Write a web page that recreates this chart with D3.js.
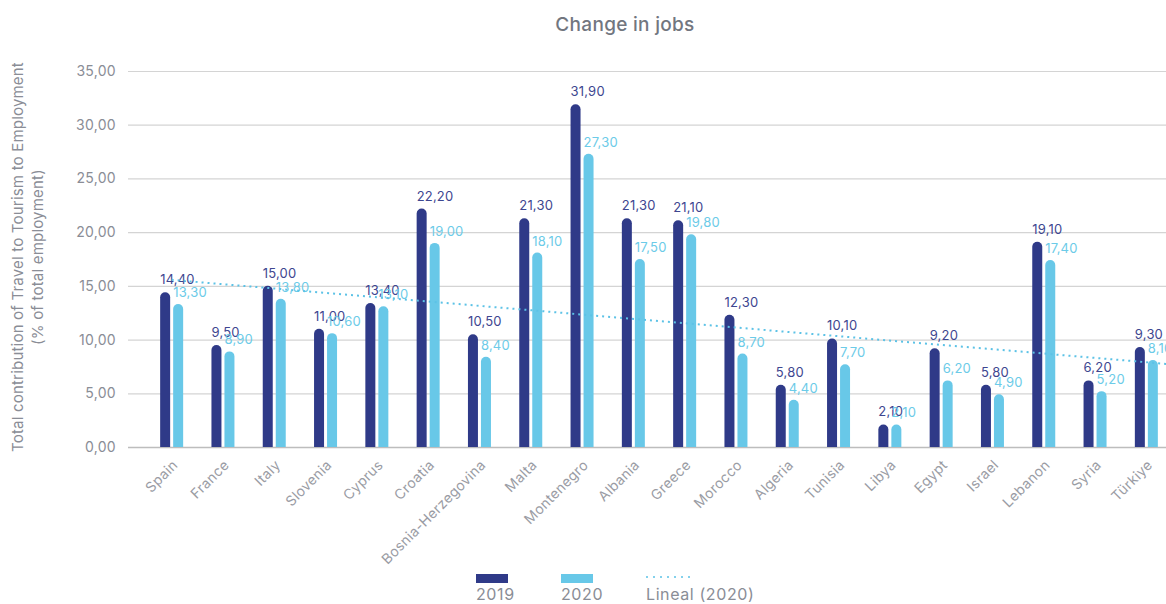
<!DOCTYPE html>
<html>
<head>
<meta charset="utf-8">
<script src="https://cdn.jsdelivr.net/npm/d3@7"></script>
<style>
  body { margin: 0; background: #fff; }
  svg { display: block; font-family: Inter, "Open Sans", sans-serif; }
</style>
</head>
<body>
<svg id="chart" width="1166" height="604"></svg>
<script>
// Travel & tourism share of total employment, by country
const countries = ["Spain", "France", "Italy", "Slovenia", "Cyprus", "Croatia", "Bosnia-Herzegovina", "Malta",
  "Montenegro", "Albania", "Greece", "Morocco", "Algeria", "Tunisia", "Libya", "Egypt", "Israel",
  "Lebanon", "Syria", "Türkiye"];
const values2019 = [14.4, 9.5, 15.0, 11.0, 13.4, 22.2, 10.5, 21.3, 31.9, 21.3, 21.1, 12.3, 5.8, 10.1, 2.1, 9.2, 5.8, 19.1, 6.2, 9.3];
const values2020 = [13.3, 8.9, 13.8, 10.6, 13.1, 19.0, 8.4, 18.1, 27.3, 17.5, 19.8, 8.7, 4.4, 7.7, 2.1, 6.2, 4.9, 17.4, 5.2, 8.1];
const yTicks = [0, 5, 10, 15, 20, 25, 30, 35];
const seriesNames = ["2019", "2020", "Lineal (2020)"];

const dark = "#2f3a88";
const light = "#68c8e8";
const grey = "#8a8d96";
const fmt = v => d3.format(".2f")(v).replace(".", ",");

const svg = d3.select("#chart");

const x = d3.scaleBand().domain(countries).range([146, 1172]);
const y = d3.scaleLinear().domain([0, 35]).range([447, 71]);

// Title
svg.append("text")
  .attr("x", 625).attr("y", 31)
  .attr("text-anchor", "middle")
  .attr("font-size", 19).attr("font-weight", 500)
  .attr("letter-spacing", 0.3)
  .attr("fill", "#72767f")
  .text("Change in jobs");

// Gridlines + y tick labels
const yAxis = d3.axisLeft(y).tickValues(yTicks).tickSize(-(1166 - 128)).tickPadding(12)
  .tickFormat(fmt);
const gy = svg.append("g").attr("transform", "translate(128,0)").call(yAxis);
gy.select(".domain").remove();
gy.selectAll(".tick line").attr("stroke", d => d === 0 ? "#bdbdbd" : "#d4d4d4").attr("stroke-width", d => d === 0 ? 1.5 : 1.2);
gy.selectAll(".tick text").attr("fill", grey).attr("font-size", 14).attr("letter-spacing", 0.3)
  .attr("font-family", "Inter, sans-serif");

// Y axis title
const yt = svg.append("text")
  .attr("transform", "translate(0,257) rotate(-90)")
  .attr("text-anchor", "middle")
  .attr("font-size", 15).attr("letter-spacing", 0.2).attr("fill", grey);
yt.append("tspan").attr("x", 0).attr("y", 23).text("Total contribution of Travel to Tourism to Employment");
yt.append("tspan").attr("x", 0).attr("y", 43).text("(% of total employment)");

// Bars with rounded tops
const bw = 10, gap = 3;
const groupW = bw * 2 + gap;
function barPath(x0, v) {
  const top = y(v), base = y(0), r = Math.min(bw / 2, (base - top));
  return `M${x0},${base} V${top + r} A${r},${r} 0 0 1 ${x0 + bw},${top + r} V${base} Z`;
}
const groups = svg.append("g").selectAll("g").data(countries).join("g")
  .attr("transform", d => `translate(${x(d) + x.bandwidth() / 2 - groupW / 2},0)`);

groups.append("path").attr("d", (d, i) => barPath(0, values2019[i])).attr("fill", dark);
groups.append("path").attr("d", (d, i) => barPath(bw + gap, values2020[i])).attr("fill", light);

// Linear trend line for 2020
const n = values2020.length;
const idx = d3.range(1, n + 1);
const mx = d3.mean(idx), my = d3.mean(values2020);
const slope = d3.sum(idx, (t, i) => (t - mx) * (values2020[i] - my)) / d3.sum(idx, t => (t - mx) ** 2);
const icpt = my - slope * mx;
const xAt = t => x(countries[0]) + x.bandwidth() * (t - 0.5);
const trend = [1, n + 0.5].map(t => [xAt(t), y(icpt + slope * t)]);
svg.append("path")
  .attr("d", d3.line()(trend))
  .attr("stroke", "#5cc2e6").attr("stroke-width", 2)
  .attr("stroke-dasharray", "2,4").attr("fill", "none");

// Value labels
groups.append("text")
  .attr("x", 0).attr("y", (d, i) => y(values2019[i]) - 8)
  .attr("font-size", 13).attr("letter-spacing", 0.2).attr("fill", "#3e4690")
  .text((d, i) => fmt(values2019[i]));
groups.append("text")
  .attr("x", bw + gap).attr("y", (d, i) => y(values2020[i]) - 7)
  .attr("font-size", 13).attr("letter-spacing", 0.2).attr("fill", "#6ccbe8")
  .text((d, i) => fmt(values2020[i]));

// Category labels
const xAxis = svg.append("g");
xAxis.selectAll("text").data(countries).join("text")
  .attr("transform", d => `translate(${x(d) + x.bandwidth() / 2 + 7},466) rotate(-45)`)
  .attr("text-anchor", "end")
  .attr("font-size", 14).attr("letter-spacing", 0.3).attr("fill", "#9a9ca4")
  .text(d => d);

// Legend
const legend = svg.append("g");
const lx = [476, 561, 646];
legend.append("rect").attr("x", lx[0]).attr("y", 574).attr("width", 32).attr("height", 9).attr("fill", dark);
legend.append("rect").attr("x", lx[1]).attr("y", 574).attr("width", 32).attr("height", 9).attr("fill", light);
legend.append("line").attr("x1", lx[2]).attr("x2", lx[2] + 44).attr("y1", 577).attr("y2", 577)
  .attr("stroke", "#5cc2e6").attr("stroke-width", 1.5).attr("stroke-dasharray", "2,5");
legend.selectAll("text.lg").data(seriesNames).join("text")
  .attr("class", "lg")
  .attr("x", (d, i) => lx[i]).attr("y", 600)
  .attr("font-size", 16).attr("letter-spacing", 0.6).attr("fill", grey)
  .text(d => d);
</script>
</body>
</html>
